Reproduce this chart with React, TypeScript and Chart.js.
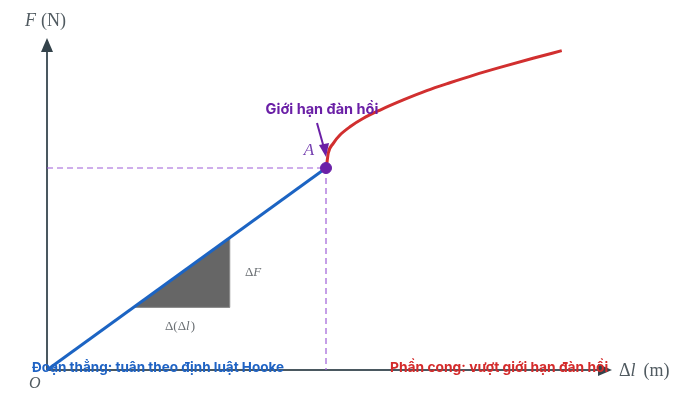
import React, { useEffect, useRef } from 'react';
import { Chart, registerables } from 'chart.js';

Chart.register(...registerables);

// Linear (Hooke) part: O -> A
const hookeDl = [0, 10];
const hookeF = [0, 10];

// Curved part beyond the elastic limit
const curveDl = [10, 10.03, 10.08, 10.26, 10.5, 10.86, 11.34, 11.94, 12.77, 13.61, 14.44, 15.3, 16.24, 17.42, 18.45];
const curveF = [10, 10.23, 10.73, 11.22, 11.63, 12.04, 12.46, 12.87, 13.37, 13.83, 14.22, 14.6, 14.98, 15.43, 15.81];

// Elastic limit point A
const limitDl = [10];
const limitF = [10];

// Slope triangle under the straight line
const triDl = [3.1, 6.55, 6.55, 3.1];
const triF = [3.1, 3.1, 6.55, 3.1];

// Axis ranges and arrow ends
const xRange = [-1.685, 22.975];
const yRange = [-1.485, 18.317];
const axisEnd = { dl: 20.25, F: 16.44 };

const toPoints = (xs: number[], ys: number[]) => xs.map((x, i) => ({ x, y: ys[i] }));

const serif = '"Liberation Serif", "DejaVu Serif", serif';
const sans = 'Inter, "Noto Sans", sans-serif';

// draws pieces of text one after another, each with its own font
const drawRuns = (ctx: CanvasRenderingContext2D, runs: [string, string, number?][], x: number, y: number) => {
  let cx = x;
  runs.forEach(([text, font, gap]) => {
    ctx.font = font;
    ctx.fillText(text, cx, y);
    cx += ctx.measureText(text).width + (gap || 0);
  });
};

const diagramPlugin = {
  id: 'diagram',
  beforeDatasetsDraw(chart: any) {
    const { ctx, scales } = chart;
    const x = scales.x;
    const y = scales.y;
    const ox = x.getPixelForValue(0);
    const oy = y.getPixelForValue(0);
    const ex = x.getPixelForValue(axisEnd.dl);
    const ey = y.getPixelForValue(axisEnd.F);
    ctx.save();
    ctx.strokeStyle = '#4a5860';
    ctx.fillStyle = '#34434b';
    ctx.lineWidth = 2;
    ctx.beginPath();
    ctx.moveTo(ox, oy);
    ctx.lineTo(ex - 8, oy);
    ctx.moveTo(ox, oy);
    ctx.lineTo(ox, ey + 8);
    ctx.stroke();
    // arrow heads
    ctx.beginPath();
    ctx.moveTo(ex, oy);
    ctx.lineTo(ex - 14, oy - 6);
    ctx.lineTo(ex - 14, oy + 6);
    ctx.closePath();
    ctx.fill();
    ctx.beginPath();
    ctx.moveTo(ox, ey);
    ctx.lineTo(ox - 6, ey + 14);
    ctx.lineTo(ox + 6, ey + 14);
    ctx.closePath();
    ctx.fill();
    ctx.restore();
  },
  afterDraw(chart: any) {
    const { ctx, scales } = chart;
    const x = scales.x;
    const y = scales.y;
    const ox = x.getPixelForValue(0);
    const oy = y.getPixelForValue(0);
    const ax = x.getPixelForValue(limitDl[0]);
    const ay = y.getPixelForValue(limitF[0]);
    ctx.save();
    ctx.textBaseline = 'middle';
    ctx.textAlign = 'left';

    // axis titles
    ctx.fillStyle = '#505a60';
    drawRuns(ctx, [['F', `italic 18px ${serif}`, 5], ['(N)', `18px ${serif}`]], 25, 21);
    drawRuns(
      ctx,
      [['\u0394', `18px ${serif}`], ['l', `italic 18px ${serif}`, 8], ['(m)', `18px ${serif}`]],
      619,
      371
    );
    ctx.font = `italic 16px ${serif}`;
    ctx.fillText('O', ox - 18, oy + 14);

    // triangle labels
    ctx.fillStyle = '#6a6f73';
    drawRuns(ctx, [['\u0394', `13px ${serif}`], ['F', `italic 13px ${serif}`]], 245, 273);
    drawRuns(
      ctx,
      [['\u0394(\u0394', `13px ${serif}`], ['l', `italic 13px ${serif}`, 1], [')', `13px ${serif}`]],
      165,
      327
    );

    // point A
    ctx.fillStyle = '#7641b0';
    ctx.font = `italic 17px ${serif}`;
    ctx.textAlign = 'center';
    ctx.fillText('A', ax - 17, ay - 17);

    // elastic limit label + arrow
    ctx.fillStyle = '#6a1fa6';
    ctx.strokeStyle = '#6a1fa6';
    ctx.font = `bold 14.5px ${sans}`;
    ctx.fillText('Giới hạn đàn hồi', 322, 110);
    ctx.lineWidth = 2;
    ctx.beginPath();
    ctx.moveTo(317, 123);
    ctx.lineTo(324, 148);
    ctx.stroke();
    ctx.beginPath();
    ctx.moveTo(326, 157);
    ctx.lineTo(319, 145);
    ctx.lineTo(329, 143);
    ctx.closePath();
    ctx.fill();

    // region labels
    ctx.textAlign = 'left';
    ctx.fillStyle = '#1f63c4';
    ctx.font = `bold 13.5px ${sans}`;
    ctx.fillText('Đoạn thẳng: tuân theo định luật Hooke', 32, 368);
    ctx.fillStyle = '#d42b2b';
    ctx.font = `bold 13.8px ${sans}`;
    ctx.fillText('Phần cong: vượt giới hạn đàn hồi', 390, 368);
    ctx.restore();
  },
};

const App: React.FC = () => {
  const canvasRef = useRef<HTMLCanvasElement>(null);

  useEffect(() => {
    if (!canvasRef.current) return;
    const dash = '#9f5fd8';
    const chart = new Chart(canvasRef.current, {
      type: 'scatter',
      data: {
        datasets: [
          {
            data: toPoints(limitDl, limitF),
            backgroundColor: '#6b21a8',
            borderColor: '#6b21a8',
            pointRadius: 5.5,
            order: 0,
          },
          {
            data: toPoints(curveDl, curveF),
            showLine: true,
            borderColor: '#d12f2f',
            borderWidth: 3,
            pointRadius: 0,
            cubicInterpolationMode: 'monotone',
            order: 1,
          },
          {
            data: toPoints(hookeDl, hookeF),
            showLine: true,
            borderColor: '#1c64c3',
            borderWidth: 3,
            pointRadius: 0,
            order: 2,
          },
          {
            data: [
              { x: 0, y: limitF[0] },
              { x: limitDl[0], y: limitF[0] },
            ],
            showLine: true,
            borderColor: dash,
            borderWidth: 1.2,
            borderDash: [6, 4],
            pointRadius: 0,
            order: 3,
          },
          {
            data: [
              { x: limitDl[0], y: limitF[0] },
              { x: limitDl[0], y: 0 },
            ],
            showLine: true,
            borderColor: dash,
            borderWidth: 1.2,
            borderDash: [6, 4],
            pointRadius: 0,
            order: 3,
          },
          {
            data: toPoints(triDl, triF),
            showLine: true,
            fill: 'shape',
            backgroundColor: '#666666',
            borderColor: '#8a8a8a',
            borderWidth: 1,
            pointRadius: 0,
            tension: 0,
            order: 4,
          },
        ],
      },
      options: {
        animation: false,
        responsive: false,
        devicePixelRatio: 1,
        layout: { padding: 0, autoPadding: false },
        scales: {
          x: { type: 'linear', display: false, min: xRange[0], max: xRange[1] },
          y: { type: 'linear', display: false, min: yRange[0], max: yRange[1] },
        },
        plugins: {
          legend: { display: false },
          tooltip: { enabled: false },
        },
      } as any,
      plugins: [diagramPlugin],
    });
    return () => chart.destroy();
  }, []);

  return (
    <div style={{ position: 'fixed', left: 0, top: 0, width: 688, height: 400, background: '#fff' }}>
      <canvas ref={canvasRef} width={688} height={400} style={{ width: 688, height: 400 }} />
    </div>
  );
};

export default App;
